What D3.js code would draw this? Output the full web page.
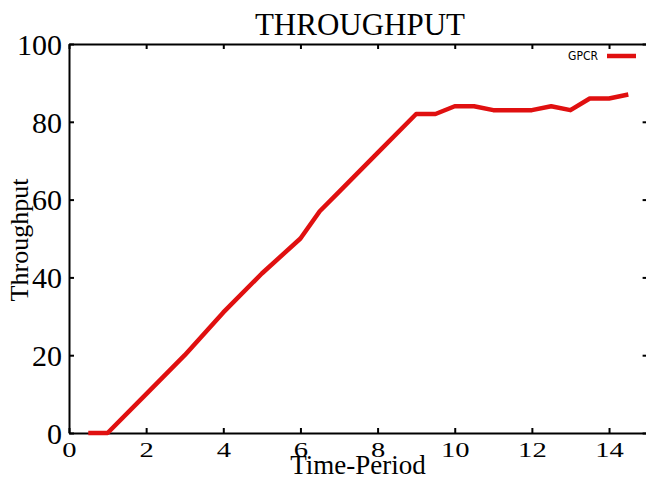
<!DOCTYPE html>
<html>
<head>
<meta charset="utf-8">
<script src="https://cdn.jsdelivr.net/npm/d3@7"></script>
<style>
  html, body { margin: 0; padding: 0; background: #fff; }
  svg { display: block; overflow: hidden; }
  text { font-family: "Liberation Serif", "DejaVu Serif", serif; fill: #000; }
</style>
</head>
<body>
<div id="chart"></div>
<script>
// Throughput chart, GPCR series
const timePeriod = [0.5, 1, 2, 3, 4, 5, 6, 6.5, 7, 8, 9, 9.5, 10, 10.5, 11, 11.5, 12, 12.5, 13, 13.5, 14, 14.5];
const gpcr       = [0, 0, 10, 20, 31, 41, 50, 57, 62, 72, 82, 82, 84, 84, 83, 83, 83, 84, 83, 86, 86, 87];
const xTicks = [0, 2, 4, 6, 8, 10, 12, 14];
const yTicks = [0, 20, 40, 60, 80, 100];
const seriesName = 'GPCR';

const width = 646, height = 479;
const margin = { left: 69, top: 44, bottom: 46 };
const plotRight = 647.6;   // x = 15 falls just past the window edge

const svg = d3.select('#chart').append('svg')
    .attr('width', width)
    .attr('height', height);

const x = d3.scaleLinear().domain([0, 15]).range([margin.left, plotRight]);
const y = d3.scaleLinear().domain([0, 100]).range([height - margin.bottom, margin.top]);

// title
svg.append('text')
    .attr('x', 360)
    .attr('y', 35)
    .attr('text-anchor', 'middle')
    .attr('font-size', '31px')
    .text('THROUGHPUT');

// axes (ticks point inward)
const tick = 5;
const axisBottomG = svg.append('g')
    .attr('transform', `translate(0,${y(0)})`)
    .call(d3.axisBottom(x).tickValues(xTicks).tickSizeInner(-tick).tickSizeOuter(0));
axisBottomG.selectAll('text')
    .attr('y', 24)
    .attr('dy', null)
    .attr('font-size', '22px')
    .attr('transform', 'scale(1.3,1)')
    .attr('x', 0);

svg.append('g')
    .attr('transform', `translate(0,${y(100)})`)
    .call(d3.axisTop(x).tickValues(xTicks).tickSizeInner(-tick).tickSizeOuter(0).tickFormat(''));

const axisLeftG = svg.append('g')
    .attr('transform', `translate(${x(0)},0)`)
    .call(d3.axisLeft(y).tickValues(yTicks).tickSizeInner(-tick).tickSizeOuter(0));
axisLeftG.selectAll('text')
    .attr('x', -7)
    .attr('dy', '0.34em')
    .attr('font-size', '30px');

svg.append('g')
    .attr('transform', `translate(${plotRight},0)`)
    .call(d3.axisRight(y).tickValues(yTicks).tickSizeInner(-tick).tickSizeOuter(0).tickFormat(''));

svg.selectAll('.domain').attr('stroke', '#000').attr('stroke-width', 2);
svg.selectAll('.tick line').attr('stroke', '#000').attr('stroke-width', 2);
svg.selectAll('.tick text').style('font-family', '"Liberation Serif", serif').attr('fill', '#000');

// axis titles
svg.append('text')
    .attr('x', 358)
    .attr('y', 474)
    .attr('text-anchor', 'middle')
    .attr('font-size', '27px')
    .text('Time-Period');

svg.append('text')
    .attr('transform', 'translate(28,240) rotate(-90)')
    .attr('text-anchor', 'middle')
    .attr('font-size', '26px')
    .text('Throughput');

// series line
const line = d3.line()
    .x((d, i) => x(timePeriod[i]))
    .y(d => y(d));

svg.append('path')
    .datum(gpcr)
    .attr('fill', 'none')
    .attr('stroke', '#e01010')
    .attr('stroke-width', 4.5)
    .attr('stroke-linejoin', 'round')
    .attr('d', line);

// legend
const legend = svg.append('g').attr('transform', 'translate(0,56)');
legend.append('text')
    .attr('x', 598)
    .attr('y', 0)
    .attr('dy', '0.35em')
    .attr('text-anchor', 'end')
    .attr('font-size', '12px')
    .style('font-family', '"Liberation Sans Narrow", "DejaVu Sans Condensed", sans-serif')
    .text(seriesName);
legend.append('line')
    .attr('x1', 607).attr('x2', 636)
    .attr('y1', 0).attr('y2', 0)
    .attr('stroke', '#e01010')
    .attr('stroke-width', 4.5);
</script>
</body>
</html>
